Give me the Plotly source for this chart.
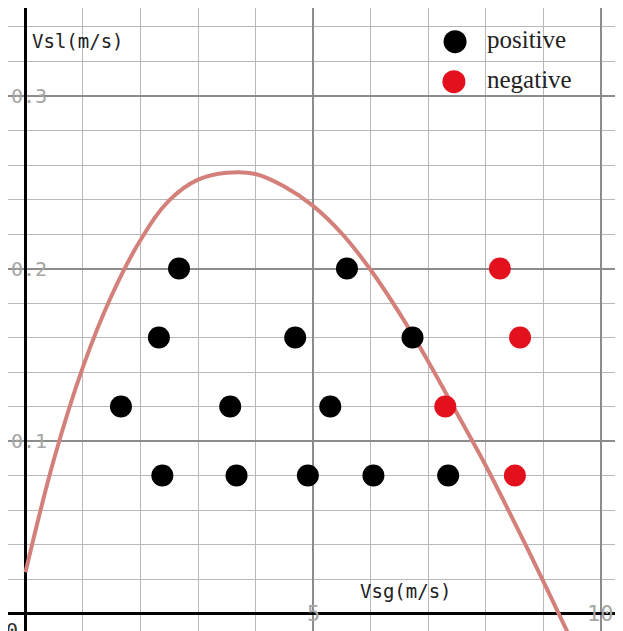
import plotly.graph_objects as go

# positive / negative observations (Vsg, Vsl)
pos_x = [2.67, 5.59, 2.32, 4.69, 6.73, 1.66, 3.56, 5.30, 2.38, 3.67, 4.91, 6.05, 7.35]
pos_y = [0.20, 0.20, 0.16, 0.16, 0.16, 0.12, 0.12, 0.12, 0.08, 0.08, 0.08, 0.08, 0.08]
neg_x = [8.25, 8.60, 7.30, 8.51]
neg_y = [0.20, 0.16, 0.12, 0.08]

# boundary curve
curve_x = [0, 0.5, 1.0, 1.5, 2.0, 2.5, 3.0, 3.5, 4.0, 4.5, 5.0,
           5.5, 6.0, 6.5, 7.0, 7.5, 8.0, 8.5, 9.0, 9.5]
curve_y = [0.024, 0.090, 0.143, 0.1845, 0.2165, 0.2395, 0.2515, 0.2555, 0.2548, 0.2475, 0.2363,
           0.2203, 0.1993, 0.1743, 0.1463, 0.1163, 0.086, 0.053, 0.019, -0.016]

y_ticks = [0.1, 0.2, 0.3]
y_tick_text = ["0.1", "0.2", "0.3"]
x_ticks = [5, 10]
x_tick_text = ["5", "10"]

RED = "#e3111d"
MONO = "DejaVu Sans Mono"

fig = go.Figure()
fig.add_trace(go.Scatter(x=curve_x, y=curve_y, mode="lines", line_shape="spline",
                         line=dict(color="#d4807a", width=4, smoothing=1.1), hoverinfo="skip"))
fig.add_trace(go.Scatter(x=pos_x, y=pos_y, mode="markers", name="positive",
                         marker=dict(color="black", size=22)))
fig.add_trace(go.Scatter(x=neg_x, y=neg_y, mode="markers", name="negative",
                         marker=dict(color=RED, size=22)))

ann = []
for v, t in zip(y_ticks, y_tick_text):
    ann.append(dict(x=0.06, y=v, text=t, showarrow=False, xanchor="center", yanchor="middle",
                    font=dict(family=MONO, size=20, color="#a6a6a6")))
for v, t in zip(x_ticks, x_tick_text):
    ann.append(dict(x=v, y=0.0, text=t, showarrow=False, xanchor="center", yanchor="middle",
                    font=dict(family=MONO, size=22, color="#a6a6a6")))
ann.append(dict(x=-0.235, y=-0.0095, text="0", showarrow=False, xanchor="center", yanchor="middle",
                font=dict(family=MONO, size=20, color="#333333")))
ann.append(dict(x=0.92, y=0.3316, text="Vsl(m/s)", showarrow=False, xanchor="center", yanchor="middle",
                font=dict(family=MONO, size=19, color="#222222")))
ann.append(dict(x=6.62, y=0.013, text="Vsg(m/s)", showarrow=False, xanchor="center", yanchor="middle",
                font=dict(family=MONO, size=19, color="#222222")))
# legend
ann.append(dict(x=7.99, y=0.3325, text="positive", showarrow=False, xanchor="left", yanchor="middle",
                font=dict(family="Liberation Serif", size=25, color="#222222")))
ann.append(dict(x=7.99, y=0.3093, text="negative", showarrow=False, xanchor="left", yanchor="middle",
                font=dict(family="Liberation Serif", size=25, color="#222222")))

shapes = []
for cx, cy, col in [(7.47, 0.3315, "black"), (7.45, 0.3083, RED)]:
    shapes.append(dict(type="circle", xref="x", yref="y", xsizemode="pixel", ysizemode="pixel",
                       xanchor=cx, yanchor=cy, x0=-11.5, x1=11.5, y0=-11.5, y1=11.5,
                       fillcolor=col, line=dict(width=0)))

# page body has an 8px margin, so the plot area starts at window pixel 8
fig.update_layout(
    width=615, height=623,
    margin=dict(l=0, r=0, t=0, b=0, pad=0),
    plot_bgcolor="white", paper_bgcolor="white",
    showlegend=False,
    annotations=ann, shapes=shapes,
    xaxis=dict(range=[-0.304, 10.39], tick0=0, dtick=5, showticklabels=False, ticks="",
               showgrid=True, gridcolor="#8c8c8c", gridwidth=1.5,
               minor=dict(dtick=1, tick0=0, showgrid=True, gridcolor="#b8b8b8", gridwidth=1.3),
               zeroline=True, zerolinecolor="black", zerolinewidth=3),
    yaxis=dict(range=[-0.0101, 0.351], tick0=0, dtick=0.1, showticklabels=False, ticks="",
               showgrid=True, gridcolor="#8c8c8c", gridwidth=1.5,
               minor=dict(dtick=0.02, tick0=0, showgrid=True, gridcolor="#b8b8b8", gridwidth=1.3),
               zeroline=True, zerolinecolor="black", zerolinewidth=3),
)

fig.write_html("out.html")
